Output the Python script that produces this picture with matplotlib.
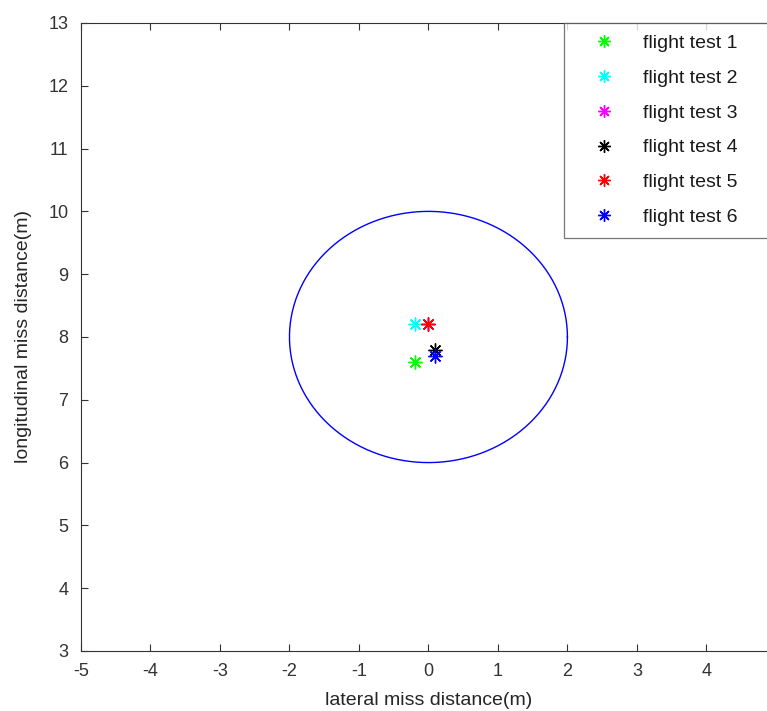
import numpy as np
import matplotlib
matplotlib.use("Agg")
import matplotlib.pyplot as plt

plt.rcParams['font.family'] = ['Liberation Sans', 'DejaVu Sans']
plt.rcParams['axes.unicode_minus'] = False

# miss distances per flight test
labels = ['flight test 1', 'flight test 2', 'flight test 3',
          'flight test 4', 'flight test 5', 'flight test 6']
lateral = [-0.2, -0.2, 0.0, 0.1, 0.0, 0.1]
longitudinal = [7.6, 8.2, 8.2, 7.8, 8.2, 7.7]
colors = ['#00ff00', '#00ffff', '#ff00ff', '#000000', '#ff0000', '#0000ff']

# target circle
circle_center = (0.0, 8.0)
circle_radius = 2.0

fig = plt.figure(figsize=(7.67, 7.11), dpi=100)
ax = fig.add_axes([0.1056, 0.0844, 0.906, 0.8833])

t = np.linspace(0, 2 * np.pi, 400)
ax.plot(circle_center[0] + circle_radius * np.cos(t),
        circle_center[1] + circle_radius * np.sin(t),
        color='#0000ff', lw=1)

for x, y, c, lab in zip(lateral, longitudinal, colors, labels):
    ax.plot([x], [y], linestyle='none', marker=(8, 2, 0), markersize=10,
            markeredgewidth=1.0, color=c, label=lab)

ax.set_xlim(-5, 5)
ax.set_ylim(3, 13)
ax.set_xticks(range(-5, 5))
ax.set_yticks(range(3, 14))
ax.tick_params(direction='in', length=5, width=0.8, labelsize=13,
               colors='#333333', top=True, right=True, pad=9)
for s in ax.spines.values():
    s.set_color('#333333')
    s.set_linewidth(0.8)

ax.set_xlabel('lateral miss distance(m)', fontsize=14, color='#262626', labelpad=8)
ax.set_ylabel('longitudinal miss distance(m)', fontsize=14, color='#262626', labelpad=12)

leg = ax.legend(loc='upper left', bbox_to_anchor=(0.695, 0.6565, 0.305, 0.3435),
                mode='expand', fontsize=14, frameon=True, fancybox=False,
                borderaxespad=0, handlelength=2.96, handletextpad=0.48,
                labelspacing=0.88, borderpad=0.6, markerscale=0.9)
leg.get_frame().set_edgecolor('#555555')
leg.get_frame().set_linewidth(0.9)
for txt in leg.get_texts():
    txt.set_color('#1a1a1a')

fig.savefig('out.png', dpi=100)
